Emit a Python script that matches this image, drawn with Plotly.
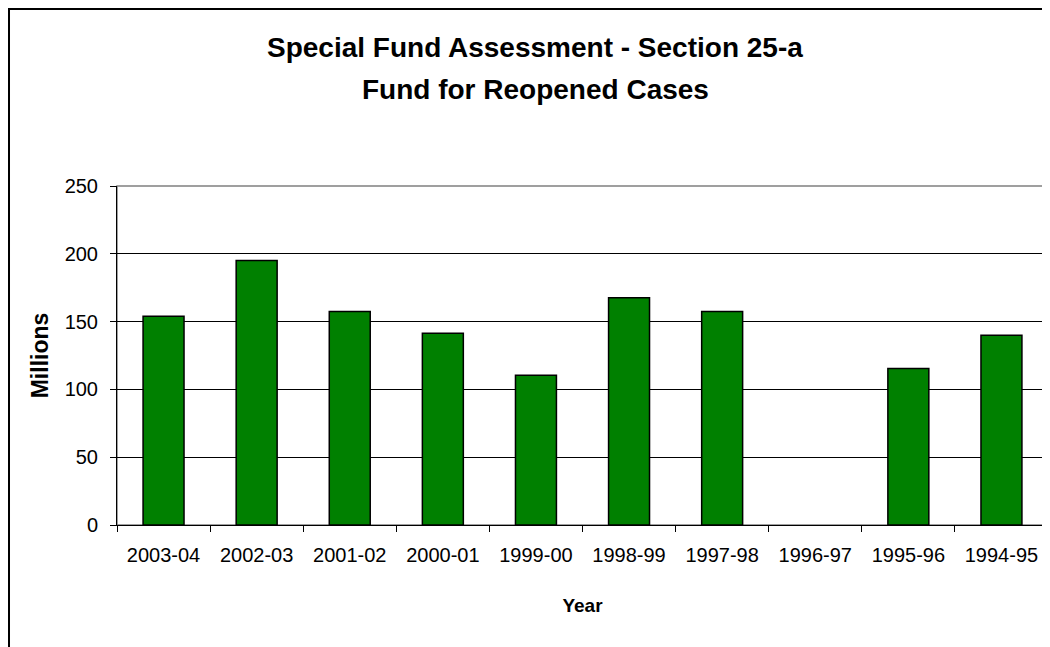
import plotly.graph_objects as go

years = ["2003-04", "2002-03", "2001-02", "2000-01", "1999-00",
         "1998-99", "1997-98", "1996-97", "1995-96", "1994-95"]
millions = [154, 195, 157.5, 141.5, 110.5, 167.5, 157.5, None, 115.5, 140]

title_lines = ["Special Fund Assessment - Section 25-a", "Fund for Reopened Cases"]

font = "Liberation Sans, Arial, sans-serif"

fig = go.Figure(go.Bar(
    x=years,
    y=millions,
    width=0.44,
    marker=dict(color="#008000", line=dict(color="black", width=1.5)),
))

fig.update_layout(
    width=1050,
    height=647,
    paper_bgcolor="white",
    plot_bgcolor="white",
    showlegend=False,
    font=dict(family=font, color="black", size=20),
    margin=dict(l=109, r=10, t=178, b=130),
    shapes=[
        dict(type="rect", xref="paper", yref="paper",
             x0=-0.116, x1=1.2, y0=-0.6, y1=1.522,
             line=dict(color="black", width=2), layer="below"),
        dict(type="rect", xref="paper", yref="paper",
             x0=0, x1=1, y0=0, y1=1,
             line=dict(color="#808080", width=1.5), layer="below"),
    ],
)

# two title lines placed separately to match the wider line spacing
for line, ypos in zip(title_lines, [1.41, 1.286]):
    fig.add_annotation(
        text="<b>" + line + "</b>", xref="paper", yref="paper",
        x=0.449, y=ypos, xanchor="center", yanchor="middle",
        showarrow=False, font=dict(family=font, size=28),
    )

fig.update_xaxes(
    type="category",
    tickson="boundaries",
    ticks="outside",
    ticklen=6,
    tickcolor="black",
    tickangle=0,
    ticklabelstandoff=12,
    automargin=False,
    showline=True,
    linecolor="black",
    linewidth=1,
    showgrid=False,
    title=dict(text="<b>Year</b>", font=dict(size=19), standoff=33),
    tickfont=dict(size=20),
)

fig.update_yaxes(
    range=[0, 250],
    dtick=50,
    ticks="outside",
    ticklen=6,
    tickcolor="black",
    ticklabelstandoff=8,
    automargin=False,
    showline=True,
    linecolor="black",
    linewidth=1,
    showgrid=True,
    gridcolor="black",
    gridwidth=1,
    zeroline=False,
    title=dict(text="<b>Millions</b>", font=dict(size=23), standoff=9),
    tickfont=dict(size=20),
)

fig.write_html("out.html")
